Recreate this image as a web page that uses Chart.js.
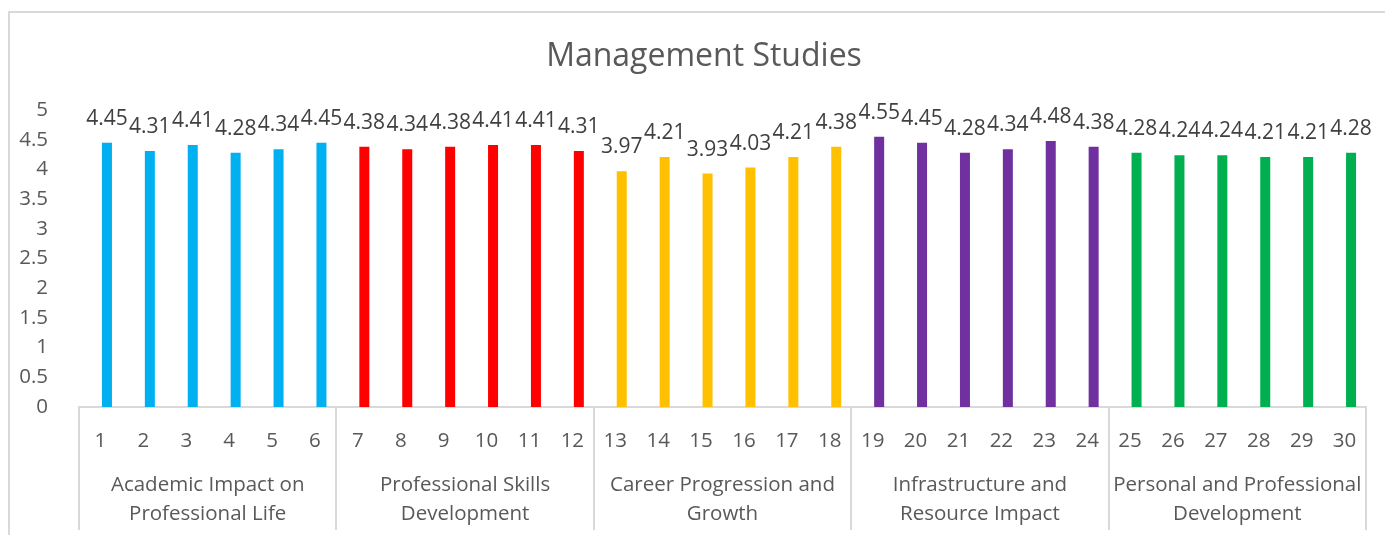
<!DOCTYPE html>
<html>
<head>
<meta charset="utf-8">
<title>Management Studies</title>
<script src="https://cdn.jsdelivr.net/npm/chart.js@4.4.1/dist/chart.umd.min.js"></script>
<style>
  body { margin: 0; background: #fff; }
  #wrap { width: 1385px; height: 535px; position: relative; }
</style>
</head>
<body>
<div id="wrap"><canvas id="chart"></canvas></div>
<script>
const items = ["1","2","3","4","5","6","7","8","9","10","11","12","13","14","15",
  "16","17","18","19","20","21","22","23","24","25","26","27","28","29","30"];
const scores = [4.45, 4.31, 4.41, 4.28, 4.34, 4.45,
  4.38, 4.34, 4.38, 4.41, 4.41, 4.31,
  3.97, 4.21, 3.93, 4.03, 4.21, 4.38,
  4.55, 4.45, 4.28, 4.34, 4.48, 4.38,
  4.28, 4.24, 4.24, 4.21, 4.21, 4.28];
const groups = [
  ["Academic Impact on", "Professional Life"],
  ["Professional Skills", "Development"],
  ["Career Progression and", "Growth"],
  ["Infrastructure and", "Resource Impact"],
  ["Personal and Professional", "Development"]
];
const groupColors = ["#00B0F0", "#FF0000", "#FFC000", "#7030A0", "#00B050"];
const groupSize = 6;

const FONT = "'Open Sans', sans-serif";
const GREY = "#595959";
const LINE = "#d9d9d9";

// excel leaves an empty slot left of each bar, so bars sit right of the tick
const spacer = items.map(() => null);

const decor = {
  id: 'decor',
  beforeDraw(chart) {
    const c = chart.ctx;
    c.save();
    c.strokeStyle = LINE;
    c.lineWidth = 2;
    c.beginPath();
    c.moveTo(9, 535);
    c.lineTo(9, 12);
    c.lineTo(1385, 12);
    c.stroke();
    c.restore();
  },
  afterDatasetsDraw(chart) {
    const c = chart.ctx;
    const x = chart.scales.x;
    const area = chart.chartArea;
    c.save();

    // title
    c.fillStyle = GREY;
    c.font = "32px " + FONT;
    c.textAlign = "center";
    c.textBaseline = "alphabetic";
    c.fillText("Management Studies", 704, 66);

    // value labels
    c.fillStyle = "#404040";
    c.font = "21px " + FONT;
    c.textBaseline = "middle";
    chart.getDatasetMeta(1).data.forEach((bar, i) => {
      c.fillText(String(scores[i]), bar.x, bar.y - 24);
    });

    // group separators + labels
    c.strokeStyle = LINE;
    c.lineWidth = 2;
    for (let g = 0; g <= groups.length; g++) {
      const px = Math.round(x.getPixelForValue(g * groupSize - 0.5));
      c.beginPath();
      c.moveTo(px, area.bottom);
      c.lineTo(px, 530);
      c.stroke();
    }
    c.fillStyle = GREY;
    c.font = "20.5px " + FONT;
    groups.forEach((lines, g) => {
      const cx = (x.getPixelForValue(g * groupSize - 0.5) + x.getPixelForValue(g * groupSize + groupSize - 0.5)) / 2;
      lines.forEach((t, k) => c.fillText(t, cx, 485 + k * 29));
    });
    c.restore();
  }
};

new Chart(document.getElementById('chart'), {
  type: 'bar',
  data: {
    labels: items,
    datasets: [
      { label: 'spacer', data: spacer },
      {
        label: 'Management Studies',
        data: scores,
        backgroundColor: scores.map((v, i) => groupColors[Math.floor(i / groupSize)])
      }
    ]
  },
  options: {
    responsive: true,
    maintainAspectRatio: false,
    animation: false,
    categoryPercentage: 0.606,
    barPercentage: 0.77,
    layout: { padding: { top: 110, right: 19, left: 0, bottom: 0 } },
    plugins: {
      legend: { display: false },
      title: { display: false },
      tooltip: { enabled: false }
    },
    scales: {
      x: {
        grid: { display: false },
        border: { display: true, color: LINE, width: 2 },
        ticks: { color: GREY, font: { family: FONT, size: 20.5 }, padding: 14, maxRotation: 0, autoSkip: false },
        afterFit(s) { s.height = 128; }
      },
      y: {
        min: 0,
        max: 5,
        grid: { display: false },
        border: { display: false },
        ticks: {
          stepSize: 0.5,
          color: GREY,
          font: { family: FONT, size: 20.5 },
          padding: 23,
          callback: v => String(v)
        },
        afterFit(s) { s.width = 79; }
      }
    }
  },
  plugins: [decor]
});
</script>
</body>
</html>
